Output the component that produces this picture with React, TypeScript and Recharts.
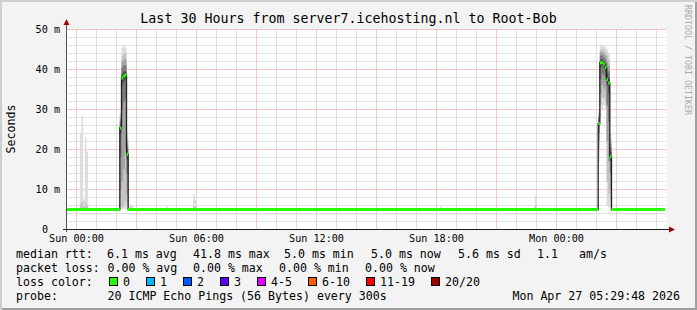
import { ComposedChart, Area, Line, XAxis, YAxis, CartesianGrid } from 'recharts'

const MONO = '"DejaVu Sans Mono", monospace'
const STEP = 5 // minutes per smokeping sample

// time axis: minutes since Sun 00:00 (graph ends Mon 05:30)
const xDomain = [-30, 1770]
const xTicks = [0, 360, 720, 1080, 1440]
const xTickLabels = ['Sun 00:00', 'Sun 06:00', 'Sun 12:00', 'Sun 18:00', 'Mon 00:00']
const majorMinutes = [0, 180, 360, 540, 720, 900, 1080, 1260, 1440, 1620]
const minorMinutes = [60, 120, 240, 300, 420, 480, 600, 660, 780, 840, 960, 1020, 1140, 1200, 1320, 1380, 1500, 1560, 1680, 1740]

const yTicks = [0, 10, 20, 30, 40, 50]
const yTickLabels = ['0', '10 m', '20 m', '30 m', '40 m', '50 m']
const yMajor = [10, 20, 30, 40, 50]
const yMinor = [2, 4, 6, 8, 12, 14, 16, 18, 22, 24, 26, 28, 32, 34, 36, 38, 42, 44, 46, 48]

// median rtt (ms), value holds from each start minute until the next one
const medianStart = [-30, 130, 135, 140, 145, 150, 155, 1565, 1570, 1575, 1580, 1585, 1590, 1595, 1600, 1605]
const medianMs = [5.0, 25.4, 37.9, 38.4, 38.6, 18.8, 5.0, 26.5, 41.7, 41.7, 41.3, 40.5, 37.5, 36.6, 18.2, 5.0]
const lastSample = 1765

// smoke: sorted ping rtts (rank out of 20) for the samples where they spread out
const smokeStart = [10, 15, 20, 25, 30, 130, 135, 140, 145, 150, 160, 165, 270, 350, 355, 1090, 1375, 1565, 1570, 1575, 1580, 1585, 1590, 1595, 1600]
const rank1 = [4.9, 4.9, 4.9, 4.9, 4.9, 5.0, 5.0, 5.0, 5.1, 5.0, 4.9, 4.9, 4.9, 4.9, 4.9, 4.9, 4.9, 17.0, 28.0, 30.0, 31.0, 30.0, 6.0, 5.5, 5.2]
const rank3 = [5.0, 5.0, 5.0, 5.0, 5.0, 6.0, 5.5, 6.0, 7.0, 6.0, 5.0, 5.0, 5.0, 5.0, 5.0, 5.0, 5.0, 20.0, 31.0, 33.0, 33.0, 32.0, 12.0, 9.0, 7.0]
const rank5 = [5.0, 5.0, 5.0, 5.0, 5.0, 10.0, 12.0, 15.0, 20.0, 9.0, 5.0, 5.0, 5.0, 5.0, 5.0, 5.0, 5.0, 22.0, 34.0, 36.0, 35.5, 35.0, 22.0, 17.0, 10.0]
const rank7 = [5.0, 5.0, 5.0, 5.0, 5.0, 18.0, 30.0, 32.0, 33.0, 14.0, 5.0, 5.0, 5.0, 5.0, 5.0, 5.0, 5.0, 24.0, 37.5, 39.0, 38.5, 37.5, 31.0, 27.0, 14.0]
const rank9 = [5.0, 5.0, 5.0, 5.0, 5.0, 24.0, 36.0, 37.0, 37.5, 17.5, 5.0, 5.0, 5.0, 5.0, 5.0, 5.0, 5.0, 25.8, 40.5, 41.0, 40.5, 39.5, 36.0, 34.0, 17.0]
const rank12 = [5.0, 5.1, 5.0, 5.1, 5.0, 26.3, 39.0, 39.5, 39.5, 20.0, 5.0, 5.0, 5.0, 5.0, 5.0, 5.0, 5.0, 27.0, 42.5, 42.5, 42.0, 41.5, 39.0, 38.0, 19.5]
const rank14 = [5.1, 5.1, 5.1, 5.2, 5.1, 27.2, 40.5, 41.0, 41.0, 21.0, 5.1, 5.0, 5.0, 5.1, 5.1, 5.0, 5.1, 27.8, 43.5, 43.5, 43.0, 42.5, 40.5, 39.5, 20.5]
const rank16 = [5.2, 5.3, 5.2, 5.4, 5.2, 28.0, 42.0, 42.5, 42.5, 22.0, 5.2, 5.1, 5.1, 5.2, 5.2, 5.1, 5.2, 28.4, 44.3, 44.3, 44.0, 43.5, 42.0, 41.0, 21.5]
const rank18 = [6.5, 7.0, 5.8, 6.8, 6.0, 28.8, 43.5, 44.0, 44.0, 23.0, 5.6, 5.4, 5.3, 5.8, 5.6, 5.3, 5.9, 29.0, 45.0, 45.0, 45.0, 44.5, 43.5, 42.5, 22.5]
const rank20 = [24.2, 28.4, 7.5, 23.2, 19.5, 29.5, 45.5, 46.0, 45.5, 24.5, 6.4, 6.0, 5.8, 8.8, 7.4, 5.8, 8.5, 29.8, 46.0, 46.0, 45.8, 45.5, 45.0, 44.0, 24.0]

const bands = [
  { lo: rank1, hi: rank20, fill: '#dddddd' },
  { lo: rank3, hi: rank18, fill: '#c4c4c4' },
  { lo: rank5, hi: rank16, fill: '#a2a2a2' },
  { lo: rank7, hi: rank14, fill: '#7a7a7a' },
  { lo: rank9, hi: rank12, fill: '#505050' },
]

const lossLabels = ['0', '1', '2', '3', '4-5', '6-10', '11-19', '20/20']
const lossColors = ['#26ff00', '#00b8ff', '#0059ff', '#5e00ff', '#dd00ff', '#ff5e00', '#ff0000', '#a10000']

const rttItems = ['6.1 ms avg', '41.8 ms max', '5.0 ms min', '5.0 ms now', '5.6 ms sd', '1.1', 'am/s']
const rttX = [107, 193, 284, 371, 458, 537, 579]
const lossItems = ['0.00 % avg', '0.00 % max', '0.00 % min', '0.00 % now']
const lossX = [107.5, 193, 279, 365]

// build the smoke rows, closing each run of consecutive samples
const smokeRows: any[] = []
smokeStart.forEach((t, i) => {
  const row: any = { t }
  bands.forEach((b, k) => { row['b' + k] = [b.lo[i], b.hi[i]] })
  smokeRows.push(row)
  if (smokeStart[i + 1] !== t + STEP) {
    smokeRows.push({ ...row, t: t + STEP })
    const gap: any = { t: t + STEP }
    bands.forEach((_, k) => { gap['b' + k] = null })
    smokeRows.push(gap)
  }
})

const darkRows = medianStart.map((t, i) => ({ t, v: medianMs[i] }))
darkRows.push({ t: lastSample, v: medianMs[medianMs.length - 1] })

// loss coloured median: flat pieces only, the jumps stay dark
const greenRows: any[] = []
medianStart.forEach((t, i) => {
  const end = medianStart[i + 1] ?? lastSample
  greenRows.push({ t, v: medianMs[i] }, { t: end, v: medianMs[i] }, { t: end, v: null })
})

function XTick({ x, y, payload }: any) {
  const i = xTicks.indexOf(payload.value)
  return (
    <text x={x} y={y + 12} textAnchor="middle" fontFamily={MONO} fontSize={10.15} fill="#000">
      {xTickLabels[i]}
    </text>
  )
}

function YTick({ x, y, payload }: any) {
  const i = yTicks.indexOf(payload.value)
  // rrdtool keeps a unit slot after the bare 0, so it sits under the ones digit
  const dx = payload.value === 0 ? -12 : 0
  return (
    <text x={x - 6.5 + dx} y={y + 3} textAnchor="end" fontFamily={MONO} fontSize={10.15} fill="#000">
      {yTickLabels[i]}
    </text>
  )
}

export default function App() {
  let bx = 109
  const lossLegend = lossLabels.map((label, i) => {
    const item = { label, color: lossColors[i], box: bx, text: bx + 14 }
    bx += 30 + 7 * label.length
    return item
  })

  return (
    <div
      style={{
        position: 'absolute', left: 0, top: 0, width: 697, height: 310,
        background: '#f3f3f3',
        boxShadow: 'inset 2px 2px 0 #cfcfcf, inset -2px -2px 0 #9e9e9e',
      }}
    >
      <div style={{ position: 'absolute', left: 0, top: 0 }}>
        <ComposedChart width={697} height={310} margin={{ top: 29.5, right: 30.5, bottom: 0, left: 0 }}>
          <CartesianGrid
            horizontalValues={yMinor}
            verticalValues={minorMinutes}
            stroke="#c4c4c4"
            strokeDasharray="1 1"
            fill="#ffffff"
            fillOpacity={1}
          />
          <CartesianGrid horizontalValues={yMajor} verticalValues={majorMinutes} stroke="#ec9494" strokeDasharray="1 1" />
          <XAxis
            type="number"
            dataKey="t"
            domain={xDomain}
            ticks={xTicks}
            interval={0}
            allowDataOverflow
            height={80.5}
            axisLine={false}
            tickLine={false}
            tickSize={0}
            tickMargin={0}
            tick={(p: any) => <XTick {...p} />}
          />
          <YAxis
            type="number"
            domain={[0, 50]}
            ticks={yTicks}
            interval={0}
            allowDataOverflow
            width={66.5}
            axisLine={false}
            tickLine={false}
            tickSize={0}
            tickMargin={0}
            tick={(p: any) => <YTick {...p} />}
          />
          {bands.map((b, k) => (
            <Area
              key={k}
              data={smokeRows}
              dataKey={'b' + k}
              type="stepAfter"
              stroke="none"
              fill={b.fill}
              fillOpacity={1}
              dot={false}
              activeDot={false}
              isAnimationActive={false}
            />
          ))}
          <Line data={darkRows} dataKey="v" type="stepAfter" stroke="#202020" strokeWidth={1.3} dot={false} activeDot={false} isAnimationActive={false} />
          <Line data={greenRows} dataKey="v" type="linear" stroke="#26ff00" strokeWidth={3} dot={false} activeDot={false} isAnimationActive={false} />
        </ComposedChart>
      </div>

      <svg width={697} height={310} style={{ position: 'absolute', left: 0, top: 0 }} fontFamily={MONO}>
        <line x1={66.5} y1={232} x2={66.5} y2={24} stroke="#505050" />
        <line x1={63} y1={229.5} x2={670} y2={229.5} stroke="#202020" />
        <polygon points="63.5,25 69.5,25 66.5,19" fill="#a00000" />
        <polygon points="669,226.5 669,232.5 675,229.5" fill="#a00000" />

        <text x={348.5} y={23} textAnchor="middle" fontSize={13.3} fill="#000">
          Last 30 Hours from server7.icehosting.nl to Root-Bob
        </text>
        <text transform="translate(10.5,129) rotate(-90)" textAnchor="middle" dominantBaseline="central" fontSize={11.6} fill="#000">
          Seconds
        </text>
        <text transform="translate(687.5,5) rotate(90)" dominantBaseline="central" fontSize={8.3} fill="#aaaaaa">
          RRDTOOL / TOBI OETIKER
        </text>

        <g fontSize={11.6} fill="#000">
          <text x={16} y={258}>median rtt:</text>
          {rttItems.map((s, i) => (
            <text key={s + i} x={rttX[i]} y={258}>{s}</text>
          ))}
          <text x={16} y={272}>packet loss:</text>
          {lossItems.map((s, i) => (
            <text key={s} x={lossX[i]} y={272}>{s}</text>
          ))}
          <text x={16} y={286}>loss color:</text>
          {lossLegend.map((l) => (
            <g key={l.label}>
              <rect x={l.box + 0.5} y={277.5} width={8} height={8} fill={l.color} stroke="#000" />
              <text x={l.text} y={286}>{l.label}</text>
            </g>
          ))}
          <text x={16} y={300}>probe:</text>
          <text x={107.5} y={300}>20 ICMP Echo Pings (56 Bytes) every 300s</text>
          <text x={680} y={300} textAnchor="end">Mon Apr 27 05:29:48 2026</text>
        </g>
      </svg>
    </div>
  )
}
